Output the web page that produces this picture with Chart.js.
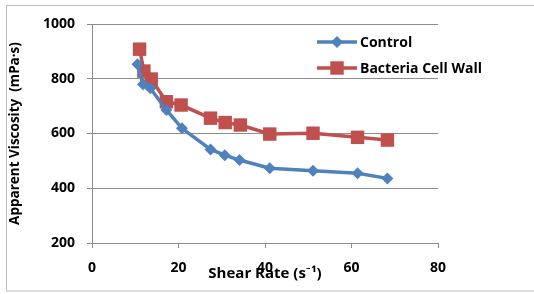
<!DOCTYPE html>
<html>
<head>
<meta charset="utf-8">
<script src="https://cdn.jsdelivr.net/npm/chart.js@4"></script>
<style>
  html, body { margin: 0; padding: 0; background: #fff; }
  #wrap { width: 534px; height: 294px; position: relative; }
</style>
</head>
<body>
<div id="wrap"><canvas id="chart" width="534" height="294"></canvas></div>
<script>
// shear rate (1/s) and apparent viscosity (mPa·s)
const shearRate = [10.5, 11.8, 13.5, 17.2, 20.8, 27.4, 30.7, 34.1, 41.1, 51.1, 61.4, 68.3];
const shearRateBcw = [11.0, 12.0, 13.7, 17.2, 20.6, 27.4, 30.8, 34.3, 41.1, 51.1, 61.4, 68.3];
const controlVisc = [853, 780, 765, 686, 619, 542, 521, 503, 473, 464, 455, 436];
const bcwVisc = [908, 828, 799, 716, 704, 656, 640, 631, 598, 601, 586, 576];
const xTicks = [0, 20, 40, 60, 80];
const yTicks = [200, 400, 600, 800, 1000];

const FONT = '"Open Sans", Lato, sans-serif';
const BLUE = '#4F81BD';
const RED = '#C0504D';
const GRID = '#8C8C8C';

const toPoints = (xs, ys) => xs.map((x, i) => ({ x, y: ys[i] }));

// outer frame, Excel style
const framePlugin = {
    id: 'frame',
    beforeDraw(chart) {
        const c = chart.ctx;
        c.save();
        c.strokeStyle = '#BFBFBF';
        c.lineWidth = 1;
        c.strokeRect(6.5, 5.5, 600, 285.5);
        c.restore();
    },
};

// legend sits inside the plot at top right
const legendPlugin = {
    id: 'insideLegend',
    afterDraw(chart) {
        const c = chart.ctx;
        const x0 = 317, x1 = 357;
        const rows = [42, 68];
        c.save();
        chart.data.datasets.forEach((ds, i) => {
            const y = rows[i];
            c.strokeStyle = ds.borderColor;
            c.lineWidth = ds.borderWidth;
            c.beginPath();
            c.moveTo(x0, y);
            c.lineTo(x1, y);
            c.stroke();
            c.fillStyle = ds.pointBackgroundColor;
            c.strokeStyle = ds.pointBorderColor;
            Chart.helpers.drawPoint(c, {
                pointStyle: ds.pointStyle,
                radius: ds.pointRadius,
                borderWidth: 0,
            }, (x0 + x1) / 2, y);
            c.fillStyle = '#000';
            c.font = 'bold 14px ' + FONT;
            c.textBaseline = 'middle';
            c.textAlign = 'left';
            c.fillText(ds.label, x1 + 3, y + 1);
        });
        c.restore();
    },
};

const boldFont = (size) => ({ family: FONT, size, weight: 'bold' });

new Chart(document.getElementById('chart'), {
    type: 'line',
    data: {
        datasets: [
            {
                label: 'Control',
                data: toPoints(shearRate, controlVisc),
                borderColor: BLUE,
                backgroundColor: BLUE,
                pointBackgroundColor: BLUE,
                pointBorderColor: BLUE,
                borderWidth: 3.5,
                pointStyle: 'rectRot',
                pointRadius: 6,
                pointBorderWidth: 0,
                tension: 0,
            },
            {
                label: 'Bacteria Cell Wall',
                data: toPoints(shearRateBcw, bcwVisc),
                borderColor: RED,
                backgroundColor: RED,
                pointBackgroundColor: RED,
                pointBorderColor: RED,
                borderWidth: 3.5,
                pointStyle: 'rect',
                pointRadius: 9.5,
                pointBorderWidth: 0,
                tension: 0,
            },
        ],
    },
    options: {
        responsive: false,
        animation: false,
        events: [],
        layout: { padding: { top: 24, right: 96, left: 0, bottom: 0 } },
        plugins: {
            legend: { display: false },
            tooltip: { enabled: false },
        },
        scales: {
            x: {
                type: 'linear',
                min: 0,
                max: 80,
                afterFit: (s) => { s.height = 51; },
                afterBuildTicks: (s) => { s.ticks = xTicks.map((v) => ({ value: v })); },
                grid: { drawOnChartArea: false, drawTicks: true, tickLength: 5, color: GRID },
                border: { display: true, color: GRID, width: 1 },
                ticks: {
                    color: '#000',
                    padding: 12,
                    maxRotation: 0,
                    font: boldFont(14),
                    callback: (v) => String(v),
                },
                title: {
                    display: true,
                    text: 'Shear Rate (s\u207B\u00B9)',
                    color: '#000',
                    padding: { top: 0, bottom: 11 },
                    font: boldFont(15),
                },
            },
            y: {
                min: 200,
                max: 1000,
                afterFit: (s) => { s.width = 92; },
                afterBuildTicks: (s) => { s.ticks = yTicks.map((v) => ({ value: v })); },
                grid: { color: GRID, tickLength: 5 },
                border: { display: true, color: GRID, width: 1 },
                ticks: {
                    color: '#000',
                    padding: 12,
                    font: boldFont(14),
                    callback: (v) => String(v),
                },
                title: {
                    display: true,
                    text: 'Apparent Viscosity  (mPa\u00B7s)',
                    color: '#000',
                    padding: { top: 7, bottom: 0 },
                    font: boldFont(13.5),
                },
            },
        },
    },
    plugins: [framePlugin, legendPlugin],
});
</script>
</body>
</html>
